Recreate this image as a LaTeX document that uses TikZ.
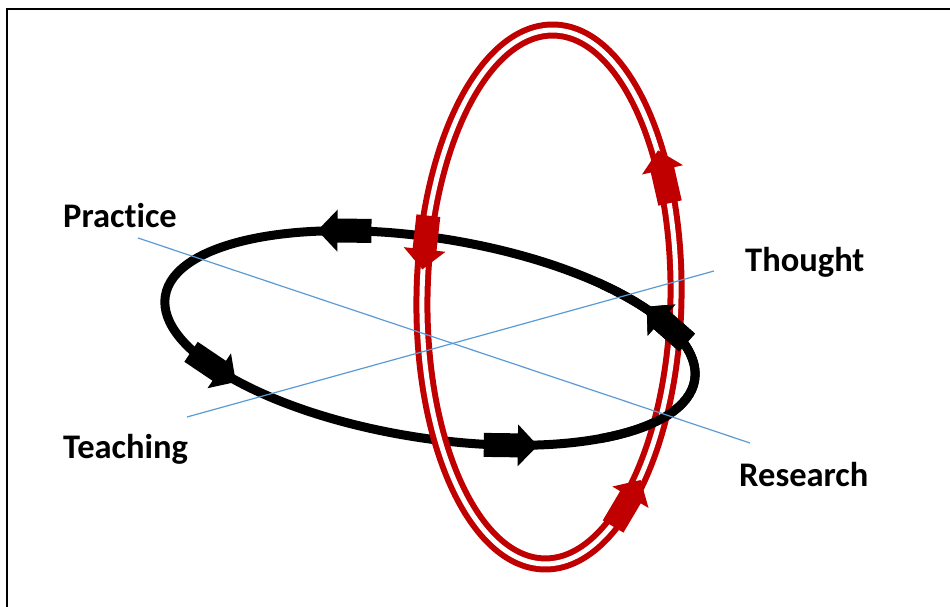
\documentclass[tikz,border=0pt]{standalone}
\usepackage{fontspec}
\newfontfamily\lblfont{Carlito}[Ligatures={NoCommon,NoRare,NoHistoric,NoContextual}]
\usetikzlibrary{decorations.markings}
\definecolor{ored}{RGB}{192,0,0}
\definecolor{oblue}{RGB}{91,155,213}
\newcommand\barrowmark[1]{\fill[#1] (-27,-12) -- (7,-12) -- (7,-21) -- (27,0) -- (7,21) -- (7,12) -- (-27,12) -- cycle;}
\tikzset{
  lbl/.style={inner sep=0pt, font=\lblfont\bfseries\fontsize{34.5}{40}\selectfont},
  blackloop/.style={draw=black, line width=9,
    postaction={decorate}, decoration={markings,
      mark=at position 0.053 with {\barrowmark{black}},
      mark=at position 0.3335 with {\barrowmark{black}},
      mark=at position 0.574 with {\barrowmark{black}},
      mark=at position 0.8296 with {\barrowmark{black}}}},
  redloop/.style={draw=ored, line width=6, double=white, double distance=5,
    postaction={decorate}, decoration={markings,
      mark=at position 0.0966 with {\barrowmark{ored}},
      mark=at position 0.459 with {\barrowmark{ored}},
      mark=at position 0.834 with {\barrowmark{ored}}}},
  axisline/.style={draw=oblue, line width=1.2}
}
\begin{document}
\begin{tikzpicture}[x=1pt,y=1pt]
\useasboundingbox (0,0) rectangle (950,607);
\clip (0,0) rectangle (950,607);
\fill[white] (0,0) rectangle (950,607);
\draw[line width=2.5] (7,598) rectangle (1000,-20);
% black loop
\draw[blackloop, rotate around={-9:(430,269)}] (430,269) ellipse [x radius=268, y radius=100];
% red loop
\draw[redloop, rotate around={-1:(549,310)}] (549,310) ellipse [x radius=127, y radius=267];
% black over red on the right side
\begin{scope}
  \clip (600,0) rectangle (950,607);
  \draw[blackloop, rotate around={-9:(430,269)}] (430,269) ellipse [x radius=268, y radius=100];
\end{scope}
% axes
\coordinate (p1) at (138,369);
\coordinate (r1) at (750,164);
\coordinate (t1) at (187,190);
\coordinate (h1) at (714,336);
\draw[axisline] (p1) -- (r1);
\draw[axisline] (t1) -- (h1);
% labels
\node[lbl, anchor=base west] (practice) at (63,379) {Practice};
\node[lbl, anchor=base west] (thought) at (745,335) {Thought};
\node[lbl, anchor=base west] (teaching) at (63,148) {Teaching};
\node[lbl, anchor=base west] (research) at (739,120) {Research};
\end{tikzpicture}
\end{document}
